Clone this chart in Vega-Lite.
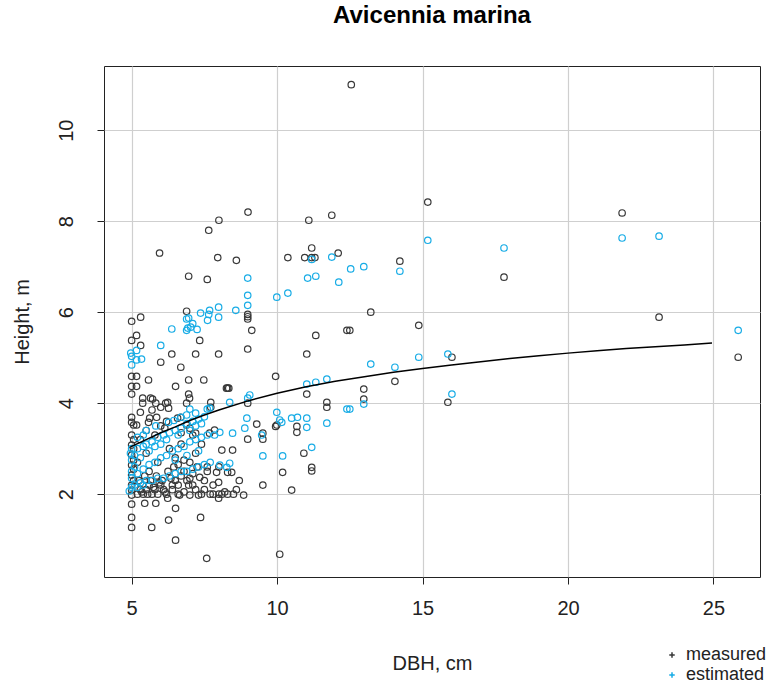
{
"$schema":"https://vega.github.io/schema/vega-lite/v6.json",
"width":656,"height":511,
"autosize":{"type":"none"},
"padding":{"left":104,"top":66,"right":11,"bottom":113},
"background":"white",
"title":{"text":"Avicennia marina","font":"Liberation Sans","fontSize":24,"fontWeight":"bold","color":"#000","anchor":"middle","offset":19,"baseline":"alphabetic"},
"config":{
 "view":{"stroke":"#222","strokeWidth":1},
 "axis":{"grid":true,"gridColor":"#cfcfcf","gridWidth":1.2,"domain":false,"ticks":true,"tickColor":"#222","tickSize":7,"tickWidth":1,
  "labelFont":"Liberation Sans","labelFontSize":20,"labelColor":"#222","titleFont":"Liberation Sans","titleFontSize":20,"titleFontWeight":"normal","titleColor":"#222"}
},
"datasets":{
"pts":[
{"x":12.55,"y":11.0,"g":"measured"},{"x":15.18,"y":8.42,"g":"measured"},{"x":21.86,"y":8.18,"g":"measured"},{"x":9.0,"y":8.2,"g":"measured"},{"x":8.0,"y":8.02,"g":"measured"},{"x":7.65,"y":7.8,"g":"measured"},{"x":5.96,"y":7.3,"g":"measured"},{"x":7.96,"y":7.2,"g":"measured"},{"x":8.6,"y":7.14,"g":"measured"},{"x":6.96,"y":6.79,"g":"measured"},{"x":7.6,"y":6.72,"g":"measured"},{"x":11.88,"y":8.13,"g":"measured"},{"x":11.09,"y":8.02,"g":"measured"},{"x":11.19,"y":7.41,"g":"measured"},{"x":11.19,"y":7.2,"g":"measured"},{"x":10.95,"y":7.2,"g":"measured"},{"x":12.1,"y":7.3,"g":"measured"},{"x":10.37,"y":7.2,"g":"measured"},{"x":11.3,"y":7.2,"g":"measured"},{"x":14.22,"y":7.12,"g":"measured"},{"x":17.8,"y":6.77,"g":"measured"},{"x":13.22,"y":6.0,"g":"measured"},{"x":12.5,"y":5.6,"g":"measured"},{"x":14.87,"y":5.71,"g":"measured"},{"x":23.13,"y":5.89,"g":"measured"},{"x":16.01,"y":5.01,"g":"measured"},{"x":25.85,"y":5.01,"g":"measured"},{"x":14.05,"y":4.48,"g":"measured"},{"x":12.98,"y":4.31,"g":"measured"},{"x":12.98,"y":4.09,"g":"measured"},{"x":15.87,"y":4.02,"g":"measured"},
{"x":6.89,"y":6.02,"g":"measured"},{"x":5.0,"y":5.8,"g":"measured"},{"x":5.31,"y":5.89,"g":"measured"},{"x":8.99,"y":5.9,"g":"measured"},{"x":8.99,"y":5.95,"g":"measured"},{"x":8.99,"y":5.85,"g":"measured"},{"x":9.13,"y":5.6,"g":"measured"},{"x":5.0,"y":5.38,"g":"measured"},{"x":5.17,"y":5.49,"g":"measured"},{"x":5.31,"y":5.27,"g":"measured"},{"x":7.34,"y":5.38,"g":"measured"},{"x":6.0,"y":4.9,"g":"measured"},{"x":6.38,"y":5.08,"g":"measured"},{"x":7.2,"y":5.08,"g":"measured"},{"x":7.99,"y":5.08,"g":"measured"},{"x":8.99,"y":5.19,"g":"measured"},{"x":11.33,"y":5.49,"g":"measured"},{"x":12.4,"y":5.6,"g":"measured"},{"x":11.02,"y":5.08,"g":"measured"},{"x":6.69,"y":4.79,"g":"measured"},{"x":5.17,"y":4.59,"g":"measured"},{"x":5.17,"y":4.37,"g":"measured"},{"x":5.58,"y":4.51,"g":"measured"},{"x":6.96,"y":4.51,"g":"measured"},{"x":7.48,"y":4.51,"g":"measured"},{"x":6.51,"y":4.37,"g":"measured"},{"x":8.34,"y":4.33,"g":"measured"},{"x":8.3,"y":4.33,"g":"measured"},{"x":8.26,"y":4.33,"g":"measured"},{"x":5.0,"y":4.59,"g":"measured"},{"x":5.0,"y":4.37,"g":"measured"},{"x":5.0,"y":4.2,"g":"measured"},{"x":6.96,"y":4.2,"g":"measured"},{"x":9.95,"y":4.59,"g":"measured"},{"x":11.02,"y":4.2,"g":"measured"},
{"x":5.38,"y":4.0,"g":"measured"},{"x":5.72,"y":4.09,"g":"measured"},{"x":6.0,"y":3.91,"g":"measured"},{"x":6.24,"y":4.02,"g":"measured"},{"x":6.27,"y":3.89,"g":"measured"},{"x":6.69,"y":3.69,"g":"measured"},{"x":7.72,"y":4.02,"g":"measured"},{"x":7.72,"y":3.91,"g":"measured"},{"x":8.99,"y":4.0,"g":"measured"},{"x":11.71,"y":4.02,"g":"measured"},{"x":11.71,"y":3.91,"g":"measured"},{"x":5.58,"y":3.58,"g":"measured"},{"x":5.86,"y":3.69,"g":"measured"},{"x":9.3,"y":3.54,"g":"measured"},{"x":9.99,"y":3.52,"g":"measured"},{"x":10.68,"y":3.49,"g":"measured"},{"x":9.95,"y":3.49,"g":"measured"},{"x":10.68,"y":3.36,"g":"measured"},{"x":8.99,"y":3.21,"g":"measured"},{"x":9.51,"y":3.21,"g":"measured"},{"x":9.51,"y":3.34,"g":"measured"},{"x":8.1,"y":2.97,"g":"measured"},{"x":8.47,"y":2.97,"g":"measured"},{"x":10.92,"y":2.9,"g":"measured"},{"x":10.19,"y":2.48,"g":"measured"},{"x":11.19,"y":2.59,"g":"measured"},{"x":11.19,"y":2.51,"g":"measured"},{"x":7.92,"y":2.48,"g":"measured"},{"x":8.3,"y":2.48,"g":"measured"},{"x":8.44,"y":2.48,"g":"measured"},{"x":7.99,"y":2.26,"g":"measured"},{"x":9.51,"y":2.2,"g":"measured"},{"x":10.5,"y":2.09,"g":"measured"},{"x":8.85,"y":1.98,"g":"measured"},{"x":7.99,"y":1.91,"g":"measured"},{"x":7.34,"y":2.37,"g":"measured"},{"x":7.3,"y":1.98,"g":"measured"},{"x":7.0,"y":1.98,"g":"measured"},{"x":6.65,"y":1.98,"g":"measured"},{"x":6.96,"y":2.2,"g":"measured"},{"x":6.24,"y":1.91,"g":"measured"},{"x":5.83,"y":1.8,"g":"measured"},{"x":5.45,"y":1.8,"g":"measured"},{"x":5.0,"y":1.78,"g":"measured"},{"x":6.51,"y":1.69,"g":"measured"},{"x":5.0,"y":1.49,"g":"measured"},{"x":5.0,"y":1.27,"g":"measured"},{"x":5.69,"y":1.27,"g":"measured"},{"x":6.27,"y":1.43,"g":"measured"},{"x":7.37,"y":1.49,"g":"measured"},{"x":6.51,"y":0.99,"g":"measured"},{"x":7.58,"y":0.59,"g":"measured"},{"x":10.09,"y":0.68,"g":"measured"},
{"x":5.38,"y":4.11,"g":"measured"},{"x":5.65,"y":4.11,"g":"measured"},{"x":5.83,"y":4.0,"g":"measured"},{"x":6.17,"y":4.0,"g":"measured"},{"x":6.89,"y":4.0,"g":"measured"},{"x":6.99,"y":4.11,"g":"measured"},{"x":5.0,"y":3.69,"g":"measured"},{"x":5.0,"y":3.58,"g":"measured"},{"x":5.07,"y":3.52,"g":"measured"},{"x":5.17,"y":3.52,"g":"measured"},{"x":5.62,"y":3.67,"g":"measured"},{"x":6.14,"y":3.45,"g":"measured"},{"x":6.58,"y":3.67,"g":"measured"},{"x":6.89,"y":3.52,"g":"measured"},{"x":7.2,"y":3.34,"g":"measured"},{"x":7.1,"y":3.3,"g":"measured"},{"x":7.68,"y":3.34,"g":"measured"},{"x":7.85,"y":3.41,"g":"measured"},{"x":5.0,"y":3.3,"g":"measured"},{"x":5.0,"y":3.08,"g":"measured"},{"x":5.0,"y":2.86,"g":"measured"},{"x":5.0,"y":2.64,"g":"measured"},{"x":5.0,"y":2.42,"g":"measured"},{"x":5.0,"y":2.2,"g":"measured"},{"x":5.0,"y":2.09,"g":"measured"},{"x":5.0,"y":1.98,"g":"measured"},{"x":5.07,"y":2.3,"g":"measured"},{"x":5.07,"y":2.55,"g":"measured"},{"x":5.07,"y":2.75,"g":"measured"},{"x":5.07,"y":3.0,"g":"measured"},{"x":5.07,"y":3.2,"g":"measured"},
{"x":5.2,"y":2.0,"g":"measured"},{"x":5.3,"y":2.1,"g":"measured"},{"x":5.4,"y":2.0,"g":"measured"},{"x":5.5,"y":2.1,"g":"measured"},{"x":5.6,"y":2.2,"g":"measured"},{"x":5.7,"y":2.0,"g":"measured"},{"x":5.8,"y":2.1,"g":"measured"},{"x":5.9,"y":2.0,"g":"measured"},{"x":6.0,"y":2.2,"g":"measured"},{"x":6.1,"y":2.1,"g":"measured"},{"x":6.2,"y":2.0,"g":"measured"},{"x":6.4,"y":2.1,"g":"measured"},{"x":6.5,"y":2.3,"g":"measured"},{"x":6.6,"y":2.2,"g":"measured"},{"x":6.7,"y":2.4,"g":"measured"},{"x":6.8,"y":2.5,"g":"measured"},{"x":6.9,"y":2.3,"g":"measured"},{"x":7.1,"y":2.2,"g":"measured"},{"x":7.2,"y":2.1,"g":"measured"},{"x":7.4,"y":2.0,"g":"measured"},{"x":7.5,"y":2.1,"g":"measured"},{"x":7.6,"y":2.5,"g":"measured"},{"x":7.7,"y":2.0,"g":"measured"},{"x":7.8,"y":2.2,"g":"measured"},{"x":8.1,"y":2.0,"g":"measured"},{"x":8.2,"y":2.05,"g":"measured"},{"x":8.5,"y":2.0,"g":"measured"},{"x":8.7,"y":2.3,"g":"measured"},{"x":5.25,"y":2.3,"g":"measured"},{"x":5.45,"y":2.4,"g":"measured"},{"x":5.65,"y":2.3,"g":"measured"},{"x":5.85,"y":2.4,"g":"measured"},{"x":6.05,"y":2.3,"g":"measured"},{"x":6.25,"y":2.5,"g":"measured"},{"x":6.45,"y":2.6,"g":"measured"},{"x":5.2,"y":2.7,"g":"measured"},{"x":5.5,"y":2.9,"g":"measured"},{"x":5.6,"y":2.5,"g":"measured"},{"x":5.9,"y":2.7,"g":"measured"},{"x":6.3,"y":3.0,"g":"measured"},{"x":6.5,"y":2.8,"g":"measured"},{"x":6.7,"y":3.1,"g":"measured"},{"x":7.0,"y":2.7,"g":"measured"},{"x":7.2,"y":2.9,"g":"measured"},{"x":7.4,"y":3.1,"g":"measured"},{"x":7.6,"y":2.6,"g":"measured"},{"x":5.3,"y":3.2,"g":"measured"},{"x":5.8,"y":3.3,"g":"measured"},{"x":6.2,"y":3.6,"g":"measured"},{"x":6.4,"y":2.2,"g":"measured"},{"x":6.6,"y":2.0,"g":"measured"},{"x":6.8,"y":2.05,"g":"measured"},{"x":7.0,"y":2.35,"g":"measured"},{"x":5.35,"y":2.05,"g":"measured"},{"x":5.55,"y":2.0,"g":"measured"},{"x":5.75,"y":2.15,"g":"measured"},{"x":5.95,"y":2.25,"g":"measured"},{"x":6.15,"y":2.05,"g":"measured"},{"x":6.35,"y":2.35,"g":"measured"},{"x":6.6,"y":2.65,"g":"measured"},{"x":6.8,"y":2.75,"g":"measured"},{"x":7.1,"y":2.45,"g":"measured"},{"x":7.25,"y":2.6,"g":"measured"},{"x":7.5,"y":2.3,"g":"measured"},{"x":7.8,"y":2.0,"g":"measured"},{"x":8.0,"y":2.0,"g":"measured"},{"x":8.3,"y":2.0,"g":"measured"},{"x":8.6,"y":2.1,"g":"measured"},{"x":8.0,"y":2.6,"g":"measured"},{"x":5.5,"y":3.4,"g":"measured"},{"x":6.0,"y":3.5,"g":"measured"},{"x":6.7,"y":3.35,"g":"measured"},{"x":7.0,"y":3.45,"g":"measured"},{"x":5.3,"y":3.8,"g":"measured"},{"x":5.7,"y":3.85,"g":"measured"},
{"x":5.0,"y":5.03,"g":"estimated"},{"x":5.0,"y":4.84,"g":"estimated"},{"x":5.17,"y":5.16,"g":"estimated"},{"x":5.17,"y":4.95,"g":"estimated"},{"x":5.34,"y":4.97,"g":"estimated"},{"x":4.97,"y":5.1,"g":"estimated"},{"x":6.0,"y":5.27,"g":"estimated"},{"x":6.38,"y":5.63,"g":"estimated"},{"x":6.89,"y":5.6,"g":"estimated"},{"x":7.03,"y":5.67,"g":"estimated"},{"x":6.96,"y":5.87,"g":"estimated"},{"x":7.61,"y":5.82,"g":"estimated"},{"x":7.37,"y":5.98,"g":"estimated"},{"x":7.68,"y":6.04,"g":"estimated"},{"x":7.99,"y":5.89,"g":"estimated"},{"x":7.99,"y":6.11,"g":"estimated"},{"x":8.58,"y":6.04,"g":"estimated"},{"x":8.99,"y":6.15,"g":"estimated"},{"x":8.99,"y":6.37,"g":"estimated"},{"x":8.99,"y":6.75,"g":"estimated"},{"x":9.99,"y":6.33,"g":"estimated"},{"x":10.37,"y":6.42,"g":"estimated"},{"x":11.05,"y":6.75,"g":"estimated"},{"x":11.33,"y":6.79,"g":"estimated"},{"x":12.12,"y":6.66,"g":"estimated"},{"x":12.53,"y":6.95,"g":"estimated"},{"x":11.88,"y":7.21,"g":"estimated"},{"x":11.19,"y":7.16,"g":"estimated"},{"x":12.98,"y":7.0,"g":"estimated"},{"x":14.22,"y":6.9,"g":"estimated"},{"x":15.18,"y":7.58,"g":"estimated"},{"x":17.8,"y":7.41,"g":"estimated"},{"x":21.86,"y":7.63,"g":"estimated"},{"x":23.13,"y":7.67,"g":"estimated"},{"x":6.89,"y":5.85,"g":"estimated"},{"x":7.1,"y":5.75,"g":"estimated"},{"x":7.25,"y":5.62,"g":"estimated"},{"x":7.65,"y":5.95,"g":"estimated"},{"x":6.93,"y":5.65,"g":"estimated"},
{"x":25.85,"y":5.6,"g":"estimated"},{"x":13.22,"y":4.86,"g":"estimated"},{"x":14.05,"y":4.79,"g":"estimated"},{"x":14.87,"y":5.01,"g":"estimated"},{"x":15.87,"y":5.08,"g":"estimated"},{"x":16.01,"y":4.2,"g":"estimated"},{"x":12.98,"y":3.98,"g":"estimated"},{"x":12.5,"y":3.87,"g":"estimated"},{"x":11.02,"y":4.42,"g":"estimated"},{"x":11.33,"y":4.46,"g":"estimated"},{"x":11.71,"y":4.53,"g":"estimated"},{"x":9.06,"y":4.18,"g":"estimated"},{"x":8.99,"y":4.11,"g":"estimated"},{"x":8.37,"y":4.02,"g":"estimated"},{"x":7.68,"y":3.89,"g":"estimated"},{"x":8.96,"y":3.67,"g":"estimated"},{"x":9.99,"y":3.8,"g":"estimated"},{"x":10.09,"y":3.63,"g":"estimated"},{"x":10.5,"y":3.67,"g":"estimated"},{"x":10.7,"y":3.69,"g":"estimated"},{"x":11.02,"y":3.67,"g":"estimated"},{"x":8.89,"y":3.45,"g":"estimated"},{"x":9.47,"y":3.3,"g":"estimated"},{"x":8.47,"y":3.34,"g":"estimated"},{"x":8.03,"y":3.36,"g":"estimated"},{"x":7.85,"y":3.3,"g":"estimated"},{"x":9.51,"y":2.84,"g":"estimated"},{"x":10.19,"y":2.84,"g":"estimated"},{"x":11.19,"y":3.03,"g":"estimated"},{"x":8.03,"y":2.64,"g":"estimated"},{"x":8.37,"y":2.68,"g":"estimated"},{"x":8.27,"y":2.59,"g":"estimated"},{"x":12.4,"y":3.87,"g":"estimated"},{"x":11.71,"y":3.56,"g":"estimated"},{"x":11.02,"y":3.47,"g":"estimated"},{"x":10.16,"y":3.58,"g":"estimated"},
{"x":4.96,"y":2.9,"g":"estimated"},{"x":5.0,"y":3.0,"g":"estimated"},{"x":5.0,"y":2.75,"g":"estimated"},{"x":5.1,"y":2.85,"g":"estimated"},{"x":5.2,"y":3.0,"g":"estimated"},{"x":5.3,"y":2.8,"g":"estimated"},{"x":5.4,"y":3.05,"g":"estimated"},{"x":5.5,"y":3.1,"g":"estimated"},{"x":5.6,"y":2.95,"g":"estimated"},{"x":5.7,"y":3.15,"g":"estimated"},{"x":5.8,"y":3.05,"g":"estimated"},{"x":5.9,"y":3.25,"g":"estimated"},{"x":6.0,"y":3.1,"g":"estimated"},{"x":6.1,"y":3.3,"g":"estimated"},{"x":6.2,"y":3.2,"g":"estimated"},{"x":6.3,"y":3.35,"g":"estimated"},{"x":6.5,"y":3.4,"g":"estimated"},{"x":6.6,"y":3.3,"g":"estimated"},{"x":6.7,"y":3.45,"g":"estimated"},{"x":6.9,"y":3.55,"g":"estimated"},{"x":7.0,"y":3.4,"g":"estimated"},{"x":7.1,"y":3.6,"g":"estimated"},{"x":7.2,"y":3.5,"g":"estimated"},{"x":7.3,"y":3.65,"g":"estimated"},{"x":7.5,"y":3.7,"g":"estimated"},{"x":7.6,"y":3.87,"g":"estimated"},{"x":7.4,"y":3.55,"g":"estimated"},{"x":7.2,"y":3.78,"g":"estimated"},{"x":7.0,"y":3.87,"g":"estimated"},{"x":6.89,"y":3.74,"g":"estimated"},{"x":6.69,"y":3.69,"g":"estimated"},{"x":6.45,"y":3.62,"g":"estimated"},{"x":6.27,"y":3.58,"g":"estimated"},{"x":5.83,"y":3.5,"g":"estimated"},{"x":5.5,"y":3.4,"g":"estimated"},{"x":5.4,"y":3.3,"g":"estimated"},{"x":5.2,"y":3.25,"g":"estimated"},
{"x":5.0,"y":2.5,"g":"estimated"},{"x":5.0,"y":2.35,"g":"estimated"},{"x":5.1,"y":2.6,"g":"estimated"},{"x":5.2,"y":2.45,"g":"estimated"},{"x":5.4,"y":2.55,"g":"estimated"},{"x":5.6,"y":2.65,"g":"estimated"},{"x":5.8,"y":2.7,"g":"estimated"},{"x":6.0,"y":2.8,"g":"estimated"},{"x":6.2,"y":2.85,"g":"estimated"},{"x":6.4,"y":2.95,"g":"estimated"},{"x":6.6,"y":3.0,"g":"estimated"},{"x":6.8,"y":3.05,"g":"estimated"},{"x":7.0,"y":3.15,"g":"estimated"},{"x":7.2,"y":3.2,"g":"estimated"},{"x":7.4,"y":3.25,"g":"estimated"},{"x":7.6,"y":3.3,"g":"estimated"},{"x":6.5,"y":2.75,"g":"estimated"},{"x":6.9,"y":2.85,"g":"estimated"},{"x":7.3,"y":2.95,"g":"estimated"},
{"x":4.92,"y":2.07,"g":"estimated"},{"x":5.0,"y":2.15,"g":"estimated"},{"x":5.1,"y":2.2,"g":"estimated"},{"x":5.2,"y":2.15,"g":"estimated"},{"x":5.3,"y":2.25,"g":"estimated"},{"x":5.4,"y":2.2,"g":"estimated"},{"x":5.5,"y":2.3,"g":"estimated"},{"x":5.7,"y":2.3,"g":"estimated"},{"x":5.9,"y":2.35,"g":"estimated"},{"x":6.1,"y":2.35,"g":"estimated"},{"x":6.3,"y":2.4,"g":"estimated"},{"x":6.5,"y":2.45,"g":"estimated"},{"x":6.7,"y":2.5,"g":"estimated"},{"x":6.9,"y":2.5,"g":"estimated"},{"x":7.1,"y":2.55,"g":"estimated"},{"x":7.3,"y":2.6,"g":"estimated"},{"x":7.5,"y":2.65,"g":"estimated"},{"x":7.7,"y":2.7,"g":"estimated"}
],
"fit":[
{"x":4.96,"y":3.04},{"x":5.5,"y":3.2},{"x":6.0,"y":3.35},{"x":6.5,"y":3.48},{"x":7.0,"y":3.62},{"x":7.5,"y":3.74},{"x":8.0,"y":3.85},{"x":9.0,"y":4.05},{"x":10.0,"y":4.22},{"x":11.0,"y":4.36},{"x":12.0,"y":4.48},{"x":13.0,"y":4.58},{"x":14.0,"y":4.68},{"x":15.0,"y":4.76},{"x":16.0,"y":4.84},{"x":17.0,"y":4.91},{"x":18.0,"y":4.98},{"x":19.0,"y":5.04},{"x":20.0,"y":5.1},{"x":21.0,"y":5.15},{"x":22.0,"y":5.2},{"x":23.0,"y":5.24},{"x":24.0,"y":5.28},{"x":24.95,"y":5.32}
]
},
"layer":[
{"data":{"name":"pts"},
 "mark":{"type":"point","filled":false,"size":42,"strokeWidth":1.2,"opacity":1},
 "encoding":{
  "x":{"field":"x","type":"quantitative","scale":{"domain":[4.05,26.6],"nice":false,"zero":false},
   "axis":{"values":[5,10,15,20,25],"title":"DBH, cm","labelBaseline":"middle","labelPadding":24,"titleX":328,"titleY":86,"titleBaseline":"middle","titleAlign":"center"}},
  "y":{"field":"y","type":"quantitative","scale":{"domain":[0.18,11.41],"nice":false,"zero":false},
   "axis":{"values":[2,4,6,8,10],"title":"Height, m","labelAngle":270,"labelAlign":"center","labelBaseline":"middle","labelPadding":31,"titleX":-82,"titleY":255.5,"titleAngle":270,"titleBaseline":"middle","titleAlign":"center"}},
  "color":{"field":"g","type":"nominal","scale":{"domain":["measured","estimated"],"range":["#383838","#17ace6"]},
   "legend":{"orient":"none","legendX":559,"legendY":580,"title":null,"padding":0,"symbolType":"M-1,0H1M0,-1V1","symbolSize":30,"symbolStrokeWidth":1.5,"labelFont":"Liberation Sans","labelFontSize":18,"labelColor":"#222","rowPadding":2,"labelOffset":5}}
 }},
{"data":{"name":"fit"},
 "mark":{"type":"line","color":"#000","strokeWidth":1.5},
 "encoding":{"x":{"field":"x","type":"quantitative"},"y":{"field":"y","type":"quantitative"}}}
]
}
